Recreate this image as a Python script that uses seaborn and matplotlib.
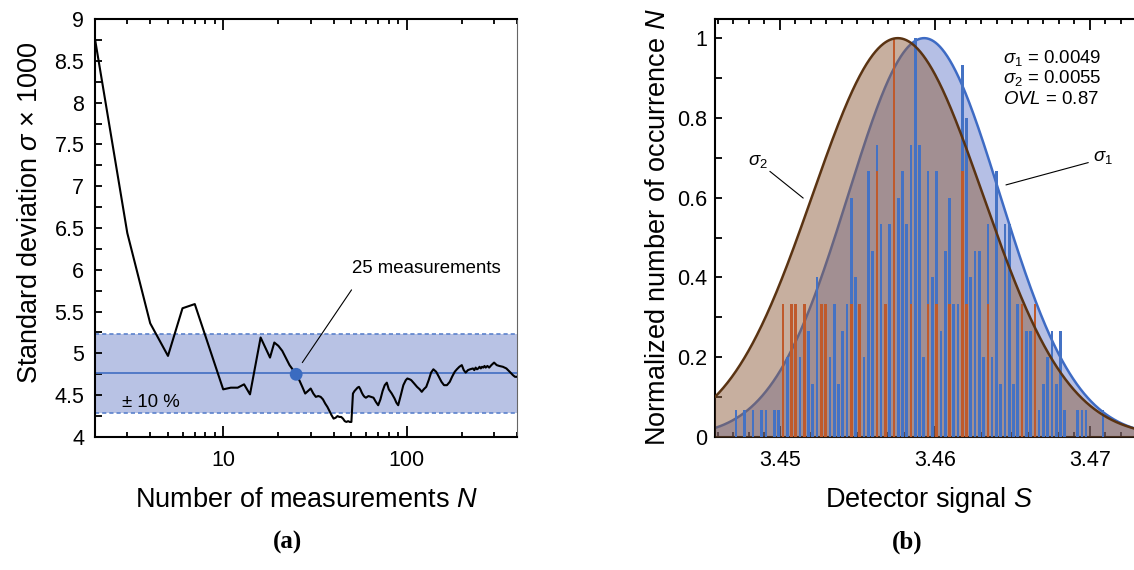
import numpy as np
import pandas as pd
import matplotlib
matplotlib.use("Agg")
import matplotlib.pyplot as plt
import seaborn as sns
from matplotlib.ticker import FixedLocator, MultipleLocator, NullFormatter, FuncFormatter

# ---------------- data: panel (a) ----------------
n_measurements = [2, 3, 4, 5, 6, 7, 10, 11, 12, 13, 14, 16, 18, 19, 20, 21, 23, 25,
                  26, 27, 28, 29, 30, 31, 32, 33, 34, 35, 36, 37, 38, 39, 40, 41, 42,
                  43, 44, 45, 46, 47, 48, 49, 50, 51, 52, 53, 54, 55, 56, 57, 58, 59,
                  60, 62, 64, 66, 68, 70, 72, 74, 76, 78, 80, 83, 86, 88, 90, 93, 96,
                  99, 101, 104, 106, 110, 114, 118, 121, 124, 128, 132, 136, 140, 145,
                  150, 155, 160, 166, 172, 177, 183, 188, 194, 200, 205, 210, 216, 222,
                  230, 234, 238, 242, 246, 250, 254, 258, 262, 266, 270, 276, 282, 290,
                  300, 310, 320, 335, 350, 365, 380, 390, 400]
sigma_x1000 = [8.76, 6.44, 5.36, 4.97, 5.54, 5.59, 4.57, 4.59, 4.59, 4.63, 4.51, 5.19,
               4.95, 5.13, 5.09, 5.03, 4.86, 4.75,
               4.68, 4.60, 4.52, 4.55, 4.58, 4.52, 4.48, 4.49, 4.48, 4.45, 4.40, 4.36,
               4.31, 4.26, 4.22, 4.23, 4.25,
               4.24, 4.24, 4.22, 4.19, 4.18, 4.19, 4.18, 4.18, 4.52, 4.55, 4.57, 4.59,
               4.60, 4.57, 4.53, 4.50, 4.48,
               4.47, 4.49, 4.48, 4.47, 4.42, 4.38, 4.45, 4.55, 4.62, 4.65, 4.57, 4.52,
               4.46, 4.41, 4.38, 4.50, 4.62,
               4.68, 4.70, 4.69, 4.68, 4.64, 4.60, 4.57, 4.54, 4.57, 4.60, 4.68, 4.77,
               4.81, 4.78,
               4.72, 4.66, 4.62, 4.62, 4.66, 4.72, 4.78, 4.81, 4.84, 4.86, 4.80, 4.77,
               4.80, 4.81,
               4.82, 4.80, 4.83, 4.81, 4.82, 4.84, 4.82, 4.84, 4.83, 4.85, 4.83, 4.85,
               4.83, 4.86,
               4.89, 4.86, 4.85, 4.84, 4.82, 4.78, 4.74, 4.72, 4.72]
sigma_mean = 4.76          # mean standard deviation (x1000)
band_rel = 0.10            # +/- 10 % band
highlight_n = 25
highlight_sigma = 4.75

# ---------------- data: panel (b) ----------------
signal_bins = [3.44716, 3.44771, 3.44826, 3.44881, 3.44909, 3.44964, 3.44992, 3.45019,
               3.45047, 3.45074, 3.45102, 3.45129, 3.45157, 3.45184, 3.45212, 3.45239,
               3.45267, 3.45295, 3.45322, 3.45350, 3.45377, 3.45405, 3.45432, 3.45460,
               3.45487, 3.45515, 3.45543, 3.45570, 3.45598, 3.45625, 3.45653, 3.45680,
               3.45708, 3.45735, 3.45763, 3.45790, 3.45818, 3.45846, 3.45873, 3.45901,
               3.45928, 3.45956, 3.45983, 3.46011, 3.46038, 3.46066, 3.46094, 3.46121,
               3.46149, 3.46176, 3.46204, 3.46231, 3.46259, 3.46286, 3.46314, 3.46341,
               3.46369, 3.46397, 3.46424, 3.46452, 3.46479, 3.46507, 3.46534, 3.46562,
               3.46589, 3.46617, 3.46645, 3.46672, 3.46700, 3.46727, 3.46755, 3.46782,
               3.46810, 3.46837, 3.46920, 3.46948, 3.46975, 3.47085]
counts_all = [1, 1, 1, 1, 1, 1, 1, 0,
              3, 0, 0, 3, 0, 4, 2, 6,
              0, 0, 3, 5, 2, 4, 5, 9,
              6, 0, 3, 10, 7, 11, 8, 0,
              8, 0, 9, 10, 8, 11, 15, 11,
              3, 10, 6, 10, 4, 7, 9, 5,
              5, 14, 12, 6, 7, 7, 3, 8,
              3, 10, 2, 8, 8, 2, 5, 0,
              4, 4, 0, 1, 2, 3, 4, 2,
              4, 1, 1, 1, 1, 1]
counts_25 = [0, 0, 0, 0, 0, 0, 0, 1,
             0, 1, 1, 0, 1, 0, 0, 0,
             1, 1, 0, 0, 0, 0, 0, 1,
             0, 1, 0, 0, 0, 2, 0, 1,
             0, 3, 0, 0, 0, 1, 0, 0,
             0, 1, 0, 1, 0, 0, 1, 0,
             0, 2, 1, 0, 0, 0, 0, 1,
             0, 0, 0, 0, 0, 0, 0, 1,
             0, 0, 1, 0, 0, 0, 0, 0,
             0, 0, 0, 0, 0, 0]
mu_1, sigma_1 = 3.4593, 0.0049
mu_2, sigma_2 = 3.4576, 0.0055
ovl = 0.87

# ---------------- style ----------------
sns.set_theme(style="ticks")
plt.rcParams.update({
    "font.family": ["Liberation Sans", "DejaVu Sans"],
    "mathtext.fontset": "custom",
    "mathtext.rm": "Liberation Sans",
    "mathtext.it": "Liberation Sans:italic",
    "mathtext.bf": "Liberation Sans:bold",
    "axes.linewidth": 1.5,
    "axes.edgecolor": "black",
    "axes.labelcolor": "black",
    "text.color": "black",
    "xtick.color": "black",
    "ytick.color": "black",
})
ANNOT = ["Liberation Sans", "DejaVu Sans"]
TICK_FS = 15.5
LABEL_FS = 19.5

W, H = 1134, 570
fig = plt.figure(figsize=(W / 100, H / 100), dpi=100)
axA = fig.add_axes([95 / W, 133 / H, 422 / W, 418 / H])
axB = fig.add_axes([715 / W, 133 / H, 419 / W, 418 / H])

# ---------------- panel (a) ----------------
lo, hi = sigma_mean * (1 - band_rel), sigma_mean * (1 + band_rel)
axA.set_xscale("log")
axA.axhspan(lo, hi, facecolor="#b8c2e4", edgecolor="none", zorder=0)
axA.axhline(sigma_mean, color="#4a74c4", lw=1.3, zorder=1)
for v in (lo, hi):
    axA.axhline(v, color="#5b82cc", lw=1.2, ls=(0, (2.5, 1.8)), zorder=1)

dfa = pd.DataFrame({"N": n_measurements, "sigma": sigma_x1000})
sns.lineplot(data=dfa, x="N", y="sigma", ax=axA, color="black", lw=1.5,
             estimator=None, sort=False, legend=False, zorder=3)
sns.scatterplot(x=[highlight_n], y=[highlight_sigma], ax=axA, s=85, color="#3a6bc0",
                edgecolor="none", zorder=4, legend=False)
axA.plot([27.0, 50.1], [4.89, 5.76], color="black", lw=0.8, zorder=4)
axA.text(50.5, 6.02, "25 measurements", family=ANNOT, fontsize=13.4, ha="left", va="center")
axA.text(2.81, 4.41, "± 10 %", family=ANNOT, fontsize=13.4, ha="left", va="center")

axA.set_xlim(2, 400)
axA.set_ylim(4, 9)
axA.xaxis.set_major_locator(FixedLocator([10, 100]))
axA.xaxis.set_minor_locator(FixedLocator([2, 3, 4, 5, 6, 7, 8, 9, 20, 30, 40, 50, 60, 70,
                                          80, 90, 200, 300, 400]))
axA.xaxis.set_major_formatter(FuncFormatter(lambda v, p: f"{v:g}"))
axA.xaxis.set_minor_formatter(NullFormatter())
axA.yaxis.set_major_locator(MultipleLocator(0.5))
axA.yaxis.set_minor_locator(MultipleLocator(0.25))
axA.yaxis.set_major_formatter(FuncFormatter(lambda v, p: f"{v:g}"))
axA.tick_params(axis="x", which="major", direction="in", length=7.7, width=1.3,
                top=True, bottom=True, labelsize=TICK_FS, pad=9)
axA.tick_params(axis="x", which="minor", direction="in", length=3.6, width=1.3,
                top=True, bottom=True)
axA.tick_params(axis="y", which="both", direction="in", length=4.8, width=1.3,
                left=True, right=False, labelsize=TICK_FS, pad=7.7)
axA.spines["right"].set_color("#666666")
axA.spines["right"].set_linewidth(0.8)
axA.set_xlabel("Number of measurements $N$", fontsize=LABEL_FS, va="center")
axA.set_ylabel("Standard deviation $\\sigma$ × 1000", fontsize=LABEL_FS, va="center")
axA.xaxis.set_label_coords(0.502, -0.151)
axA.yaxis.set_label_coords(-0.154, 0.537)

# ---------------- panel (b) ----------------
xmin, xmax = 3.44581, 3.47284
s_grid = np.linspace(xmin, xmax, 800)
g1 = np.exp(-(s_grid - mu_1) ** 2 / (2 * sigma_1 ** 2))
g2 = np.exp(-(s_grid - mu_2) ** 2 / (2 * sigma_2 ** 2))

axB.fill_between(s_grid, 0, g1, color="#4861c0", alpha=0.4, lw=0, zorder=1)
sns.lineplot(x=s_grid, y=g1, ax=axB, color="#3e6bc4", lw=1.8, zorder=2, legend=False)
axB.fill_between(s_grid, 0, g2, color="#916141", alpha=0.5, lw=0, zorder=3)

h_all = np.array(counts_all) / max(counts_all)
h_25 = np.array(counts_25) / max(counts_25)
axB.bar(signal_bins, h_all, width=0.00017, color="#4472c4", lw=0, zorder=4)
axB.bar(signal_bins, h_25, width=0.00017, color="#bf5a2c", lw=0, zorder=4.5)
sns.lineplot(x=s_grid, y=g2, ax=axB, color="#5a3312", lw=1.8, zorder=5, legend=False)

axB.text(3.46439, 0.951, r"$\sigma_1$ = " + f"{sigma_1:.4f}", family=ANNOT, fontsize=13.4,
         ha="left", va="center")
axB.text(3.46439, 0.899, r"$\sigma_2$ = " + f"{sigma_2:.4f}", family=ANNOT, fontsize=13.4,
         ha="left", va="center")
axB.text(3.46439, 0.846, r"$OVL$ = " + f"{ovl:.2f}", family=ANNOT, fontsize=13.4,
         ha="left", va="center")
axB.text(3.44858, 0.69, r"$\sigma_2$", family=ANNOT, fontsize=13.4, ha="center", va="center")
axB.plot([3.44935, 3.45150], [0.666, 0.599], color="black", lw=0.8, zorder=6)
axB.text(3.47019, 0.70, r"$\sigma_1$", family=ANNOT, fontsize=13.4, ha="left", va="center")
axB.plot([3.46989, 3.46458], [0.688, 0.632], color="black", lw=0.8, zorder=6)

axB.set_xlim(xmin, xmax)
axB.set_ylim(0, 1.048)
axB.xaxis.set_major_locator(MultipleLocator(0.01))
axB.xaxis.set_minor_locator(MultipleLocator(0.001))
axB.xaxis.set_major_formatter(FuncFormatter(lambda v, p: f"{v:.2f}"))
axB.yaxis.set_major_locator(MultipleLocator(0.2))
axB.yaxis.set_minor_locator(MultipleLocator(0.1))
axB.yaxis.set_major_formatter(FuncFormatter(lambda v, p: f"{v:g}"))
axB.spines["right"].set_visible(False)
axB.tick_params(axis="x", which="major", direction="in", length=7.7, width=1.3,
                top=True, bottom=True, labelsize=TICK_FS, pad=9)
axB.tick_params(axis="x", which="minor", direction="in", length=3.6, width=1.3,
                top=True, bottom=True)
axB.tick_params(axis="y", which="both", direction="in", length=4.8, width=1.3,
                left=True, right=False, labelsize=TICK_FS, pad=5.5)
axB.set_xlabel("Detector signal $S$", fontsize=LABEL_FS, va="center")
axB.set_ylabel("Normalized number of occurrence $N$", fontsize=LABEL_FS, va="center")
axB.xaxis.set_label_coords(0.512, -0.151)
axB.yaxis.set_label_coords(-0.136, 0.502)

fig.text(287 / W, 1 - 542 / H, "(a)", family=["Liberation Serif", "DejaVu Serif"],
         weight="bold", fontsize=18, ha="center", va="center")
fig.text(907 / W, 1 - 542 / H, "(b)", family=["Liberation Serif", "DejaVu Serif"],
         weight="bold", fontsize=18, ha="center", va="center")

fig.savefig("out.png", dpi=100)
